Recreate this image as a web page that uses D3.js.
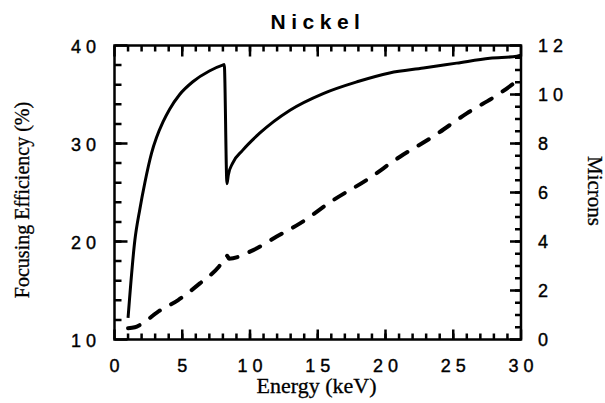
<!DOCTYPE html>
<html>
<head>
<meta charset="utf-8">
<script src="https://cdn.jsdelivr.net/npm/d3@7"></script>
<style>
  body { margin: 0; background: #fff; }
  .tick-label { font-family: "Liberation Sans", Arial, sans-serif; font-size: 18px; letter-spacing: 5px; fill: #000; stroke: #000; stroke-width: 0.4px; }
  .axis-label { font-family: "Liberation Serif", "Times New Roman", serif; font-size: 22px; fill: #000; stroke: #000; stroke-width: 0.3px; }
  .title { font-family: "Liberation Sans", Arial, sans-serif; font-size: 21px; font-weight: bold; letter-spacing: 5.5px; fill: #000; }
</style>
</head>
<body>
<div id="chart"></div>
<script>
// tick values
const energyTicks = [0, 5, 10, 15, 20, 25, 30];
const energyMinor = d3.range(1, 30, 1);
const effTicks = [10, 20, 30, 40];
const effMinor = d3.range(12, 40, 2);
const micronTicks = [0, 2, 4, 6, 8, 10, 12];
const micronMinor = d3.range(0.5, 12, 0.5);

// focusing efficiency (%) vs energy (keV), left axis
const effEnergy  = [1.0, 1.5, 1.87, 2.24, 2.73, 3.1, 3.58, 4.07, 4.81, 5.78, 7.0, 7.98, 8.1, 8.3, 8.4, 8.72, 9.45, 10.67, 12.95, 15.4, 17.9, 20.3, 22.8, 25.25, 27.7, 29.7, 30];
const efficiency = [12.2, 20.1, 23.3, 26.0, 29.0, 30.6, 32.2, 33.5, 35.0, 36.3, 37.4, 38.0, 38.05, 25.9, 26.8, 28.0, 29.3, 31.0, 33.4, 35.1, 36.3, 37.2, 37.7, 38.2, 38.7, 38.9, 39.0];

// thickness (microns) vs energy (keV), right axis
const thickEnergy = [1.0, 1.5, 1.9, 3.2, 4.7, 6.3, 7.7, 8.3, 8.45, 10.24, 11.97, 13.69, 16.15, 18.6, 21.07, 23.5, 26.0, 28.45, 29.7];
const microns     = [0.46, 0.5, 0.6, 1.13, 1.61, 2.29, 2.97, 3.42, 3.3, 3.65, 4.2, 4.74, 5.69, 6.51, 7.46, 8.28, 9.23, 10.05, 10.55];

const width = 605, height = 403;
const margin = {top: 45.5, left: 114.5, right: 84, bottom: 63.5};
const innerWidth = width - margin.left - margin.right;
const innerHeight = height - margin.top - margin.bottom;

const svg = d3.select("#chart").append("svg")
  .attr("width", width)
  .attr("height", height);

const g = svg.append("g")
  .attr("transform", `translate(${margin.left},${margin.top})`);

const xScale = d3.scaleLinear().domain([0, 30]).range([0, innerWidth]);
const yEff = d3.scaleLinear().domain([10, 40]).range([innerHeight, 0]);
const yMic = d3.scaleLinear().domain([0, 12]).range([innerHeight, 0]);

// inward tick marks
const tickPath = (values, pos, horizontal, start, len) => {
  const p = d3.path();
  values.forEach(d => {
    const v = pos(d);
    if (horizontal) { p.moveTo(start, v); p.lineTo(start + len, v); }
    else { p.moveTo(v, start); p.lineTo(v, start + len); }
  });
  g.append("path")
    .attr("d", p.toString())
    .attr("fill", "none")
    .attr("stroke", "#000")
    .attr("stroke-width", 2.5);
};

tickPath(energyMinor, xScale, false, innerHeight, -6);
tickPath(energyTicks, xScale, false, innerHeight, -10);
tickPath(energyMinor, xScale, false, 0, 6);
tickPath(energyTicks, xScale, false, 0, 11);
tickPath(effMinor, yEff, true, 0, 7);
tickPath(effTicks, yEff, true, 0, 13);
tickPath(micronMinor, yMic, true, innerWidth, -6);
tickPath(micronTicks, yMic, true, innerWidth, -11);

// tick labels
g.append("g").selectAll("text").data(energyTicks).join("text")
  .attr("class", "tick-label")
  .attr("x", d => xScale(d) + 2.5)
  .attr("y", innerHeight + 32.5)
  .attr("text-anchor", "middle")
  .text(d => d);

g.append("g").selectAll("text").data(effTicks).join("text")
  .attr("class", "tick-label")
  .attr("x", -13.5)
  .attr("y", d => yEff(d) + 7)
  .attr("text-anchor", "end")
  .text(d => d);

g.append("g").selectAll("text").data(micronTicks).join("text")
  .attr("class", "tick-label")
  .attr("x", innerWidth + 17)
  .attr("y", d => yMic(d) + 6.5)
  .attr("text-anchor", "start")
  .text(d => d);

// frame
g.append("rect")
  .attr("width", innerWidth)
  .attr("height", innerHeight)
  .attr("fill", "none")
  .attr("stroke", "#000")
  .attr("stroke-width", 2.5);

// curves
const effLine = d3.line()
  .x((d, i) => xScale(effEnergy[i]))
  .y(d => yEff(d))
  .curve(d3.curveMonotoneX);

g.append("path")
  .attr("d", effLine(efficiency))
  .attr("fill", "none")
  .attr("stroke", "#000")
  .attr("stroke-width", 3)
  .attr("stroke-linejoin", "round");

const micLine = d3.line()
  .x((d, i) => xScale(thickEnergy[i]))
  .y(d => yMic(d))
  .curve(d3.curveMonotoneX);

g.append("path")
  .attr("d", micLine(microns))
  .attr("fill", "none")
  .attr("stroke", "#000")
  .attr("stroke-width", 4)
  .attr("stroke-linecap", "round")
  .attr("stroke-dasharray", "12,13");

// labels
svg.append("text")
  .attr("class", "title")
  .attr("x", 318)
  .attr("y", 29)
  .attr("text-anchor", "middle")
  .text("Nickel");

svg.append("text")
  .attr("class", "axis-label")
  .attr("x", 316.5)
  .attr("y", 393)
  .attr("text-anchor", "middle")
  .text("Energy (keV)");

svg.append("text")
  .attr("class", "axis-label")
  .attr("transform", "translate(29,200) rotate(-90)")
  .attr("text-anchor", "middle")
  .style("font-size", "20px")
  .text("Focusing Efficiency (%)");

svg.append("text")
  .attr("class", "axis-label")
  .attr("transform", "translate(588,191) rotate(90)")
  .attr("text-anchor", "middle")
  .style("font-size", "21px")
  .text("Microns");
</script>
</body>
</html>
